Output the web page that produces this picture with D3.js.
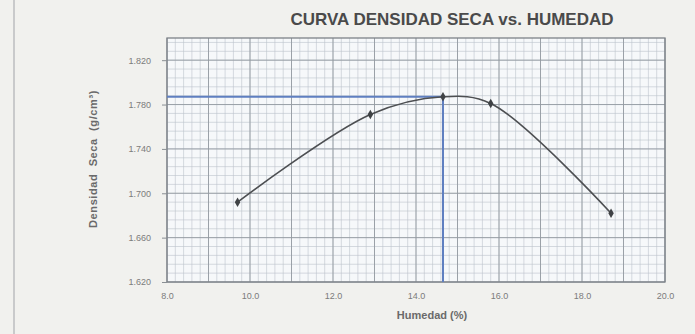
<!DOCTYPE html>
<html>
<head>
<meta charset="utf-8">
<script src="https://cdn.jsdelivr.net/npm/d3@7"></script>
<style>
  html, body { margin: 0; padding: 0; background: #f1f1ee; }
  svg { display: block; }
</style>
</head>
<body>
<svg id="chart" width="695" height="334"></svg>
<script>
// Compaction test: dry density vs. moisture content
const humedad = [9.7, 12.9, 14.65, 15.8, 18.7];
const densidad = [1.692, 1.771, 1.787, 1.781, 1.682];
// Optimum moisture content and maximum dry density
const optimoHumedad = 14.65;
const maximaDensidad = 1.787;

const xTicks = [8.0, 10.0, 12.0, 14.0, 16.0, 18.0, 20.0];
const yTicks = [1.620, 1.660, 1.700, 1.740, 1.780, 1.820];

const titulo = "CURVA DENSIDAD SECA vs. HUMEDAD";
const tituloX = "Humedad (%)";
const tituloY = "Densidad  Seca  (g/cm\u00B3)";

const svg = d3.select("#chart");
const W = 695, H = 334;
const plot = { left: 167, right: 665, top: 38, bottom: 282 };

const x = d3.scaleLinear().domain([8, 20]).range([plot.left, plot.right]);
const y = d3.scaleLinear().domain([1.62, 1.84]).range([plot.bottom, plot.top]);

// paper edge
svg.append("rect").attr("width", W).attr("height", H).attr("fill", "#f1f1ee");
svg.append("line").attr("x1", 14).attr("x2", 14).attr("y1", 0).attr("y2", H)
  .attr("stroke", "#c9cacb").attr("stroke-width", 2);

// plot area
svg.append("rect")
  .attr("x", plot.left).attr("y", plot.top)
  .attr("width", plot.right - plot.left).attr("height", plot.bottom - plot.top)
  .attr("fill", "#f6f8fa");

// minor grid
const gx = d3.range(8, 20.0001, 0.2);
const gy = d3.range(1.62, 1.8401, 0.008);
const grid = svg.append("g");
grid.selectAll("line.mx").data(gx).join("line")
  .attr("x1", d => x(d)).attr("x2", d => x(d))
  .attr("y1", plot.top).attr("y2", plot.bottom)
  .attr("stroke", "#bcc3cb").attr("stroke-width", 0.6);
grid.selectAll("line.my").data(gy).join("line")
  .attr("y1", d => y(d)).attr("y2", d => y(d))
  .attr("x1", plot.left).attr("x2", plot.right)
  .attr("stroke", "#bcc3cb").attr("stroke-width", 0.6);

// major grid
grid.selectAll("line.Mx").data(d3.range(8, 20.0001, 1)).join("line")
  .attr("x1", d => x(d)).attr("x2", d => x(d))
  .attr("y1", plot.top).attr("y2", plot.bottom)
  .attr("stroke", "#949ba2").attr("stroke-width", 0.9);
grid.selectAll("line.My").data(d3.range(1.62, 1.8401, 0.04)).join("line")
  .attr("y1", d => y(d)).attr("y2", d => y(d))
  .attr("x1", plot.left).attr("x2", plot.right)
  .attr("stroke", "#949ba2").attr("stroke-width", 0.9);

// frame
svg.append("rect")
  .attr("x", plot.left).attr("y", plot.top)
  .attr("width", plot.right - plot.left).attr("height", plot.bottom - plot.top)
  .attr("fill", "none").attr("stroke", "#7d8288").attr("stroke-width", 1.3);

// axes
const font = "Liberation Sans, Arial, sans-serif";
const xAxis = svg.append("g").attr("transform", `translate(0,${plot.bottom})`)
  .call(d3.axisBottom(x).tickValues(xTicks).tickFormat(d3.format(".1f")).tickSize(0).tickPadding(11));
const yAxis = svg.append("g").attr("transform", `translate(${plot.left},0)`)
  .call(d3.axisLeft(y).tickValues(yTicks).tickFormat(d3.format(".3f")).tickSize(5).tickPadding(11));
[xAxis, yAxis].forEach(a => {
  a.select(".domain").remove();
  a.selectAll("text").attr("fill", "#7c7c7c").attr("font-family", font).attr("font-size", 9);
  a.selectAll("line").attr("stroke", "#8a8f94");
});

// optimum reference lines
svg.append("line")
  .attr("x1", plot.left).attr("x2", x(optimoHumedad))
  .attr("y1", y(maximaDensidad)).attr("y2", y(maximaDensidad))
  .attr("stroke", "#5f7fc0").attr("stroke-width", 2);
svg.append("line")
  .attr("x1", x(optimoHumedad)).attr("x2", x(optimoHumedad))
  .attr("y1", y(maximaDensidad)).attr("y2", plot.bottom)
  .attr("stroke", "#5f7fc0").attr("stroke-width", 2);

// compaction curve
const pts = humedad.map((h, i) => [h, densidad[i]]);
svg.append("path")
  .datum(pts)
  .attr("d", d3.line().x(d => x(d[0])).y(d => y(d[1])).curve(d3.curveCatmullRom.alpha(0.5)))
  .attr("fill", "none").attr("stroke", "#4d4f52").attr("stroke-width", 1.6);

svg.selectAll("path.pt").data(pts).join("path")
  .attr("transform", d => `translate(${x(d[0])},${y(d[1])})`)
  .attr("d", d3.symbol().type(d3.symbolDiamond).size(26))
  .attr("fill", "#3f4245");

// titles
svg.append("text").attr("x", 452).attr("y", 25).attr("text-anchor", "middle")
  .attr("font-family", font).attr("font-weight", "bold").attr("font-size", 17)
  .attr("fill", "#4a4a4a").text(titulo);
svg.append("text").attr("x", 432).attr("y", 319).attr("text-anchor", "middle")
  .attr("font-family", font).attr("font-size", 11).attr("font-weight", "bold")
  .attr("fill", "#6a6a6a").text(tituloX);
svg.append("text").attr("transform", "translate(97,159) rotate(-90)").attr("text-anchor", "middle")
  .attr("font-family", font).attr("font-size", 11).attr("font-weight", "bold")
  .attr("letter-spacing", 0.6).style("white-space", "pre")
  .attr("fill", "#6a6a6a").text(tituloY);
</script>
</body>
</html>
